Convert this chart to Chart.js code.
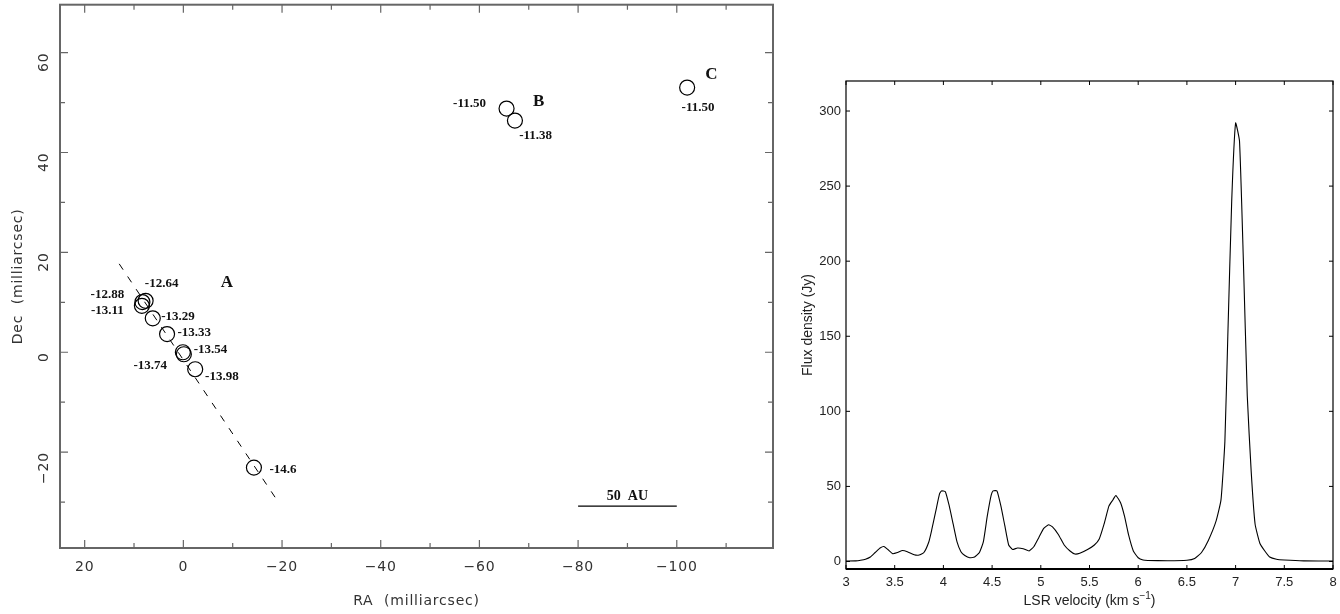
<!DOCTYPE html>
<html><head><meta charset="utf-8">
<style>html,body{margin:0;padding:0;background:#fff;width:1340px;height:614px;overflow:hidden}
canvas{position:absolute;top:0}</style>
<script src="https://cdn.jsdelivr.net/npm/chart.js@4"></script></head>
<body><canvas id="maser" width="790" height="618" style="left:0;top:-4px"></canvas><canvas id="spec" width="550" height="614" style="left:790px"></canvas>
<script>
const maserRA=[7.65,8.3,8.4,6.2,3.3,0.1,-0.1,-2.4,-14.3,-65.5,-67.2,-102.1];
const maserDec=[10.3,10.05,9.3,6.8,3.65,0,-0.4,-3.4,-23.1,48.8,46.4,53];
const fitRA=[13,-18.7];
const fitDec=[17.7,-29.2];
const scaleBarRA=[-80,-100];
const scaleBarDec=[-30.8,-30.8];
const raTicks=[20,10,0,-10,-20,-30,-40,-50,-60,-70,-80,-90,-100,-110];
const decTicks=[-30,-20,-10,0,10,20,30,40,50,60];
const noteText=['-12.64','-12.88','-13.11','-13.29','-13.33','-13.54','-13.74','-13.98','-14.6','-11.50','-11.38','-11.50','A','B','C','50  AU'];
const noteRA=[4.4,15.4,15.4,1.1,-2.2,-5.5,6.7,-7.8,-20.2,-58,-71.4,-104.3,-8.8,-72,-107,-90];
const noteDec=[13.8,11.6,8.3,7.2,3.9,0.6,-2.6,-4.8,-23.5,49.8,43.3,48.9,14,50.2,55.7,-28.8];
const velocity=[3,3.1,3.15,3.2,3.25,3.3,3.35,3.39,3.43,3.48,3.53,3.58,3.63,3.7,3.75,3.8,3.85,3.88,3.92,3.96,3.98,4.02,4.06,4.1,4.14,4.18,4.22,4.27,4.32,4.37,4.41,4.45,4.49,4.51,4.55,4.59,4.63,4.67,4.71,4.76,4.82,4.88,4.93,4.98,5.03,5.08,5.12,5.18,5.24,5.3,5.35,5.4,5.48,5.55,5.6,5.65,5.7,5.74,5.77,5.82,5.86,5.9,5.95,6,6.05,6.1,6.3,6.5,6.58,6.65,6.72,6.8,6.85,6.89,6.92,6.96,7,7.04,7.08,7.12,7.16,7.2,7.25,7.3,7.35,7.42,7.5,7.7,8];
const flux=[0.3,0.4,0.8,1.5,3,6,9,10,8,5.2,6,7.3,6.5,4.5,4.3,6,13,21,33,45,47,46.5,37,25,13,6.5,4,2.5,3,6,13,30,44,47,47,37,24,11,8,9,8.5,7,10,16,22,24.5,23,18,11,7,5,5.5,8,11,15,25,37,41,44,39,30,18,7,2.5,1,0.7,0.5,0.8,2,6,14,27,41,80,150,240,292,280,200,110,60,25,12,7,3,1.5,1,0.4,0.3];
const velTicks=[3,3.5,4,4.5,5,5.5,6,6.5,7,7.5,8];
const fluxTicks=[0,50,100,150,200,250,300];

const pts=(xs,ys)=>xs.map((x,i)=>({x,y:ys[i]}));
const minus=v=>String(v).replace('-','\u2212');
const pin=(s,prop,val)=>{s[prop]=val;s.paddingTop=0;s.paddingBottom=0;s.paddingLeft=0;s.paddingRight=0;};

function frame(cfg){return {id:'frame',afterDatasetsDraw(c){
  const a=c.chartArea,g=c.ctx,X=c.scales.x,Y=c.scales.y;
  g.save();g.strokeStyle=cfg.color;g.lineWidth=cfg.width;
  g.strokeRect(a.left,a.top,a.right-a.left,a.bottom-a.top);
  g.beginPath();
  X.ticks.forEach(t=>{const p=X.getPixelForValue(t.value),l=cfg.lenX(t.value);
    g.moveTo(p,a.bottom);g.lineTo(p,a.bottom-l);g.moveTo(p,a.top);g.lineTo(p,a.top+l);});
  Y.ticks.forEach(t=>{const p=Y.getPixelForValue(t.value),l=cfg.lenY(t.value);
    g.moveTo(a.left,p);g.lineTo(a.left+l,p);g.moveTo(a.right,p);g.lineTo(a.right-l,p);});
  g.lineWidth=cfg.tickWidth;g.stroke();
  if(cfg.bottomWidth){g.beginPath();g.moveTo(a.left,a.bottom);g.lineTo(a.right,a.bottom);g.lineWidth=cfg.bottomWidth;g.stroke();}
  g.restore();
}};}

const notes={id:'notes',afterDatasetsDraw(c){
  const g=c.ctx;g.save();g.letterSpacing='0px';g.fillStyle='#111';g.textAlign='center';g.textBaseline='middle';
  noteText.forEach((t,i)=>{
    const size=t.length===1?17:(t.startsWith('50')?14:13);
    g.font='bold '+size+'px "Liberation Serif"';
    g.fillText(t,c.scales.x.getPixelForValue(noteRA[i]),c.scales.y.getPixelForValue(noteDec[i]));
  });g.restore();
}};

const velTitle={id:'velTitle',afterDraw(c){
  const g=c.ctx,mid=(c.chartArea.left+c.chartArea.right)/2,y=601;
  const main='LSR velocity (km s',sup='\u22121',end=')';
  g.save();g.fillStyle='#222';g.textBaseline='middle';g.textAlign='left';
  g.font='14px "Liberation Sans"';const w1=g.measureText(main).width,w3=g.measureText(end).width;
  g.font='10px "Liberation Sans"';const w2=g.measureText(sup).width;
  let x=mid-(w1+w2+w3)/2;
  g.font='14px "Liberation Sans"';g.fillText(main,x,y);
  g.font='10px "Liberation Sans"';g.fillText(sup,x+w1,y-5);
  g.font='14px "Liberation Sans"';g.fillText(end,x+w1+w2,y);
  g.restore();
}};

const spaced={id:'spaced',beforeDraw(c){c.ctx.letterSpacing='0.8px';}};

const axisOpts=(o)=>Object.assign({type:'linear',border:{display:false},grid:{display:false,drawTicks:false}},o);

new Chart(document.getElementById('maser'),{type:'scatter',
 data:{datasets:[
  {data:pts(fitRA,fitDec),showLine:true,borderColor:'#000',borderWidth:1,borderDash:[7,8.2],pointRadius:0,fill:false},
  {data:pts(scaleBarRA,scaleBarDec),showLine:true,borderColor:'#000',borderWidth:1.2,pointRadius:0,fill:false},
  {data:pts(maserRA,maserDec),showLine:false,pointStyle:'circle',pointRadius:7.5,borderColor:'#000',borderWidth:1.2,backgroundColor:'rgba(0,0,0,0)'}
 ]},
 options:{responsive:false,animation:false,devicePixelRatio:1,
  layout:{padding:{left:10,right:17,top:1,bottom:0}},
  plugins:{legend:{display:false},tooltip:{enabled:false}},
  scales:{
   x:axisOpts({reverse:true,min:-119.5,max:25,
     afterBuildTicks:s=>{s.ticks=raTicks.map(v=>({value:v}));},
     afterFit:s=>pin(s,'height',66),
     ticks:{autoSkip:false,maxRotation:0,minRotation:0,padding:11,color:'#333',font:{family:'"DejaVu Sans"',size:14},callback:v=>v%20===0?minus(v):''},
     title:{display:true,text:'RA  (milliarcsec)',color:'#333',font:{family:'"DejaVu Sans"',size:14},padding:{top:0,bottom:4}}}),
   y:axisOpts({min:-39.2,max:69.6,
     afterBuildTicks:s=>{s.ticks=decTicks.map(v=>({value:v}));},
     afterFit:s=>pin(s,'width',50),
     ticks:{autoSkip:false,minRotation:90,maxRotation:90,padding:16,color:'#333',font:{family:'"DejaVu Sans"',size:14},callback:v=>v%20===0?minus(v):''},
     title:{display:true,text:'Dec  (milliarcsec)',color:'#333',font:{family:'"DejaVu Sans"',size:14},padding:{top:0,bottom:0}}})
  }},
 plugins:[spaced,frame({color:'#666',width:2,tickWidth:1.2,lenX:v=>v%20===0?8:5,lenY:v=>v%20===0?8:5}),notes]
});

new Chart(document.getElementById('spec'),{type:'scatter',
 data:{datasets:[{data:pts(velocity,flux),showLine:true,borderColor:'#000',borderWidth:1.1,pointRadius:0,tension:0.15,fill:false}]},
 options:{responsive:false,animation:false,devicePixelRatio:1,
  layout:{padding:{left:10,right:7,top:81,bottom:0}},
  plugins:{legend:{display:false},tooltip:{enabled:false}},
  scales:{
   x:axisOpts({min:3,max:8,
     afterBuildTicks:s=>{s.ticks=velTicks.map(v=>({value:v}));},
     afterFit:s=>pin(s,'height',45),
     ticks:{autoSkip:false,maxRotation:0,minRotation:0,padding:6,color:'#222',font:{family:'"Liberation Sans"',size:13},callback:v=>String(v)},
     title:{display:false}}),
   y:axisOpts({min:-5,max:320,
     afterBuildTicks:s=>{s.ticks=fluxTicks.map(v=>({value:v}));},
     afterFit:s=>pin(s,'width',46),
     ticks:{autoSkip:false,padding:5,color:'#222',font:{family:'"Liberation Sans"',size:13},callback:v=>String(v)},
     title:{display:true,text:'Flux density (Jy)',color:'#222',font:{family:'"Liberation Sans"',size:14},padding:{top:0,bottom:0}}})
  }},
 plugins:[frame({color:'#000',width:1.2,tickWidth:1,bottomWidth:2,lenX:()=>4,lenY:()=>4}),velTitle]
});
</script></body></html>
